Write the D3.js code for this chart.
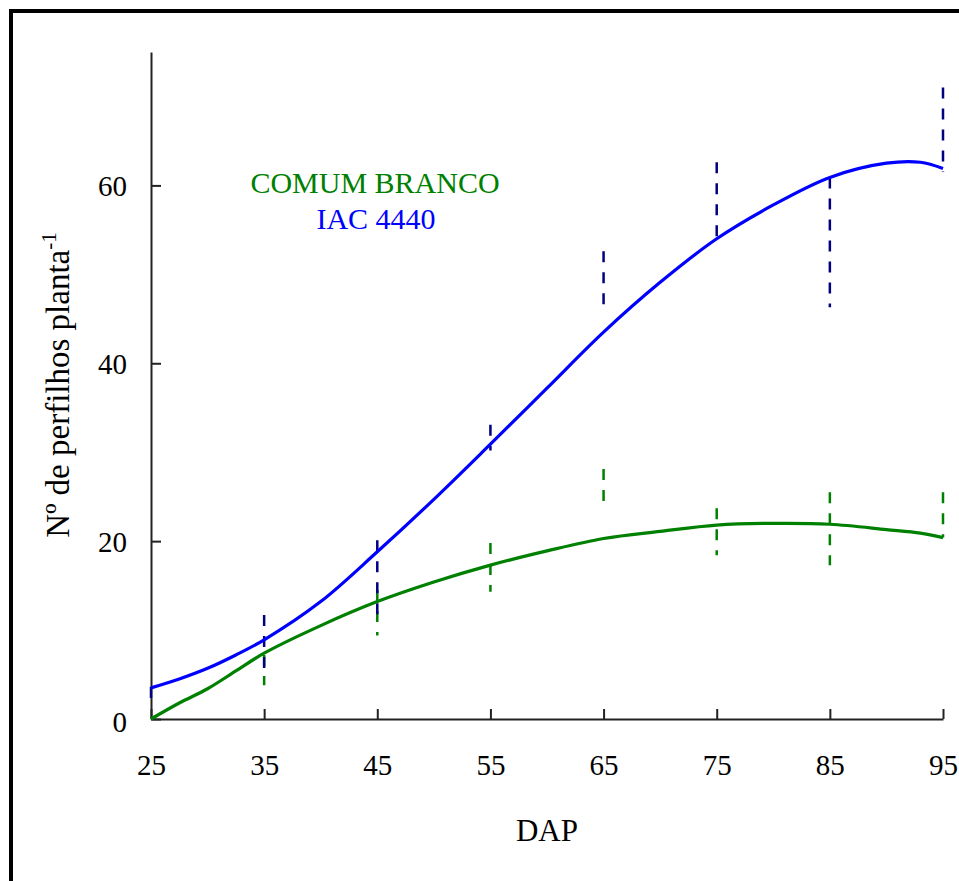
<!DOCTYPE html>
<html lang="pt">
  <head>
    <meta charset="utf-8">
    <title>Nº de perfilhos planta-1</title>
    <script src="https://cdn.jsdelivr.net/npm/d3@7"></script>
    <style>
      body { margin: 0; background: #fff; }
      text { font-family: "Liberation Serif", "DejaVu Serif", serif; }
    </style>
  </head>
  <body>
    <div id="chart"></div>

    <script type="text/javascript">

      // DAP (dias apos plantio)
      var dapTicks = [25, 35, 45, 55, 65, 75, 85, 95]
      var yTicks   = [0, 20, 40, 60]

      // curvas ajustadas
      var fitDap    = [25, 27.5, 30, 32.5, 35, 40, 45, 50, 55, 60, 65, 70, 75, 80, 85, 90, 93, 95]
      var fitIac    = [3.5, 4.5, 5.7, 7.2, 8.9, 13.2, 18.8, 24.7, 30.9, 37.2, 43.5, 49.1, 54.0, 57.8, 60.9, 62.5, 62.6, 61.9]
      var fitComum  = [0, 1.8, 3.4, 5.4, 7.4, 10.5, 13.2, 15.4, 17.3, 18.9, 20.3, 21.1, 21.8, 22.0, 21.9, 21.3, 20.9, 20.4]

      // barras de desvio (min / max)
      var barDap      = [25, 35, 45, 55, 65, 75, 85, 95]
      var iacLow      = [1.9, 5.7, 11.5, 30.2, 46.3, 54.0, 46.3, 61.5]
      var iacHigh     = [3.6, 11.7, 20.1, 33.1, 52.6, 62.6, 60.9, 71.0]
      var comumLow    = [0, 3.8, 9.4, 14.3, 23.8, 18.4, 17.3, 20.4]
      var comumHigh   = [0, 7.2, 14.5, 19.8, 28.1, 23.7, 25.5, 25.5]

      var W = 959, H = 881

      var svg = d3.select("#chart").append("svg")
          .attr("width", W)
          .attr("height", H)

      // moldura
      svg.append("rect")
        .attr("x", 11).attr("y", 11)
        .attr("width", W + 20).attr("height", H + 20)
        .attr("fill", "none")
        .attr("stroke", "#000")
        .attr("stroke-width", 4)

      var x = d3.scaleLinear().domain([25, 95]).range([151, 943])
      var y = d3.scaleLinear().domain([0, 75]).range([719, 52])

      var xAxis = d3.axisBottom(x).tickValues(dapTicks).tickSize(-10).tickSizeOuter(0)
      var yAxis = d3.axisLeft(y).tickValues(yTicks).tickSize(-10).tickSizeOuter(0).tickPadding(24)

      var gX = svg.append("g").attr("transform", "translate(0,719)").call(xAxis)
      var gY = svg.append("g").attr("transform", "translate(151,0)").call(yAxis)

      gX.select(".domain").attr("stroke", "#222").attr("stroke-width", 2)
      gY.select(".domain").attr("stroke", "#222").attr("stroke-width", 2)
      svg.selectAll(".tick line").attr("stroke", "#222").attr("stroke-width", 2)

      gX.selectAll("text")
        .attr("y", 46).attr("dy", "0.35em")
        .style("font-size", "29px").attr("fill", "#000")
      gY.selectAll("text")
        .attr("dy", "0.35em")
        .style("font-size", "29px").attr("fill", "#000")
      gY.selectAll(".tick").filter(function(d){ return d == 0 }).select("text").attr("dy", "0.42em")

      // titulos dos eixos
      svg.append("text")
        .attr("x", 547).attr("y", 841)
        .attr("text-anchor", "middle")
        .style("font-size", "31px")
        .text("DAP")

      var yl = svg.append("text")
        .attr("transform", "translate(69,385) rotate(-90)")
        .attr("text-anchor", "middle")
        .style("font-size", "33px")
      yl.append("tspan").text("Nº de perfilhos planta")
      yl.append("tspan").attr("dy", "-0.6em").style("font-size", "21px").text("-1")

      // legenda
      svg.append("text")
        .attr("x", 375).attr("y", 193)
        .attr("text-anchor", "middle")
        .attr("fill", "#008000")
        .style("font-size", "30px")
        .text("COMUM BRANCO")
      svg.append("text")
        .attr("x", 376).attr("y", 229)
        .attr("text-anchor", "middle")
        .attr("fill", "#0000ff")
        .style("font-size", "30px")
        .text("IAC 4440")

      function drawBars(low, high, color) {
        svg.append("g").selectAll("line")
          .data(barDap.map(function(d, i){ return [d, low[i], high[i]] }))
          .enter().append("line")
          .attr("x1", function(d){ return x(d[0]) })
          .attr("x2", function(d){ return x(d[0]) })
          .attr("y1", function(d){ return y(d[2]) })
          .attr("y2", function(d){ return y(d[1]) })
          .attr("stroke", color)
          .attr("stroke-width", 2.5)
          .attr("stroke-dasharray", "11,10")
      }

      function drawCurve(vals, color) {
        var line = d3.line()
          .x(function(d){ return x(d[0]) })
          .y(function(d){ return y(d[1]) })
          .curve(d3.curveCatmullRom)
        svg.append("path")
          .datum(fitDap.map(function(d, i){ return [d, vals[i]] }))
          .attr("d", line)
          .attr("fill", "none")
          .attr("stroke", color)
          .attr("stroke-width", 3.2)
      }

      drawBars(comumLow, comumHigh, "#008000")
      drawBars(iacLow, iacHigh, "#000080")
      drawCurve(fitComum, "#008000")
      drawCurve(fitIac, "#0000ff")

    </script>
  </body>
</html>
